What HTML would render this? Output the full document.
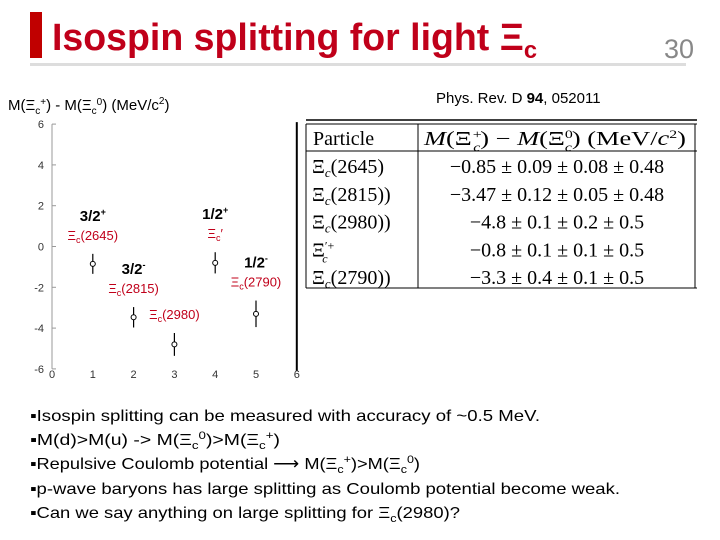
<!DOCTYPE html>
<html><head><meta charset="utf-8"><style>
body{margin:0;background:#fff}
svg{display:block}
text{font-family:"Liberation Sans Narrow","Liberation Sans",sans-serif}
.m{font-family:"Liberation Serif",serif;font-size:20px}
</style></head><body>
<svg id="s" width="720" height="540" viewBox="0 0 720 540">
<rect x="30" y="12" width="12" height="46" fill="#c00000"/>
<text x="52" y="50" font-size="38" font-weight="bold" fill="#c0001a" textLength="485" lengthAdjust="spacingAndGlyphs">Isospin splitting for light Ξ<tspan font-size="24" dy="8">c</tspan></text>
<rect x="30" y="63" width="656" height="3" fill="#ddd"/>
<text x="664" y="58" font-size="27" fill="#888">30</text>
<text x="8" y="110" font-size="15" fill="#000">M(Ξ<tspan font-size="10" dy="4">c</tspan><tspan font-size="10" dy="-9">+</tspan><tspan dy="5">) - M(Ξ</tspan><tspan font-size="10" dy="4">c</tspan><tspan font-size="10" dy="-9">0</tspan><tspan dy="5">) (MeV/c</tspan><tspan font-size="10" dy="-6">2</tspan><tspan dy="6">)</tspan></text>
<text x="436" y="103" font-size="15" fill="#000">Phys. Rev. D <tspan font-weight="bold">94</tspan>, 052011</text>
<g id="chart"></g>
<g>
<line x1="306" y1="120" x2="697" y2="120" stroke="#000" stroke-width="1.5"/>
<line x1="306" y1="124" x2="697" y2="124" stroke="#000" stroke-width="1"/>
<line x1="306" y1="151" x2="697" y2="151" stroke="#000" stroke-width="1"/>
<line x1="306" y1="288" x2="697" y2="288" stroke="#000" stroke-width="1"/>
<line x1="306" y1="124" x2="306" y2="288" stroke="#000"/>
<line x1="418" y1="124" x2="418" y2="288" stroke="#000"/>
<line x1="695" y1="124" x2="695" y2="288" stroke="#000"/>
<text class="m" x="313" y="145">Particle</text>
<text class="m" x="424" y="145" textLength="262" lengthAdjust="spacingAndGlyphs"><tspan font-style="italic">M</tspan>(Ξ<tspan font-size="12" font-style="italic" dy="-7">+</tspan><tspan font-size="12" font-style="italic" dx="-7" dy="13">c</tspan><tspan dy="-6">) − </tspan><tspan font-style="italic">M</tspan>(Ξ<tspan font-size="12" dy="-7">0</tspan><tspan font-size="12" font-style="italic" dx="-6" dy="13">c</tspan><tspan dy="-6">)  (MeV/</tspan><tspan font-style="italic">c</tspan><tspan font-size="12" dy="-7">2</tspan><tspan dy="7">)</tspan></text>
<g id="rows"></g>
</g>
<g>
<text x="30" y="421" font-size="16" textLength="510" lengthAdjust="spacingAndGlyphs">▪Isospin splitting can be measured with accuracy of ~0.5 MeV.</text>
<text x="30" y="445" font-size="16" textLength="250" lengthAdjust="spacingAndGlyphs">▪M(d)&gt;M(u)  -&gt; M(Ξ<tspan font-size="11" dy="4">c</tspan><tspan font-size="11" dy="-10">0</tspan><tspan dy="6">)&gt;M(Ξ</tspan><tspan font-size="11" dy="4">c</tspan><tspan font-size="11" dy="-10">+</tspan><tspan dy="6">)</tspan></text>
<text x="30" y="469" font-size="16" textLength="390" lengthAdjust="spacingAndGlyphs">▪Repulsive Coulomb potential ⟶ M(Ξ<tspan font-size="11" dy="4">c</tspan><tspan font-size="11" dy="-10">+</tspan><tspan dy="6">)&gt;M(Ξ</tspan><tspan font-size="11" dy="4">c</tspan><tspan font-size="11" dy="-10">0</tspan><tspan dy="6">)</tspan></text>
<text x="30" y="494" font-size="16" textLength="590" lengthAdjust="spacingAndGlyphs">▪p-wave baryons has large splitting as Coulomb potential become weak.</text>
<text x="30" y="518" font-size="16" textLength="430" lengthAdjust="spacingAndGlyphs">▪Can we say anything on large splitting for Ξ<tspan font-size="11" dy="4">c</tspan><tspan dy="-4">(2980)?</tspan></text>
</g>
</svg>
<script>
const xs=[1,2,3,4,5];
const values=[-0.85,-3.47,-4.8,-0.8,-3.3];
const errors=[0.49,0.5,0.56,0.52,0.65];
const yTicks=[6,4,2,0,-2,-4,-6];
const xTicks=[0,1,2,3,4,5,6];
const spins=["3/2","3/2","","1/2","1/2"];
const parities=["+","-","","+","-"];
const names=["(2645)","(2815)","(2980)","′","(2790)"];
const tableNames=["Ξc(2645)","Ξc(2815))","Ξc(2980))","Ξ′+c","Ξc(2790))"];
const tableVals=["−0.85 ± 0.09 ± 0.08 ± 0.48","−3.47 ± 0.12 ± 0.05 ± 0.48","−4.8 ± 0.1 ± 0.2 ± 0.5","−0.8 ± 0.1 ± 0.1 ± 0.5","−3.3 ± 0.4 ± 0.1 ± 0.5"];
const NS="http://www.w3.org/2000/svg";
const X=v=>52+v*40.8, Y=v=>246.5-v*20.4;
const g=document.getElementById('chart');
function mk(t,a,p){const e=document.createElementNS(NS,t);for(const k in a)e.setAttribute(k,a[k]);(p||g).appendChild(e);return e;}
let e=mk('line',{x1:X(0),y1:Y(6),x2:X(0),y2:Y(-6),stroke:'#999'});


e=mk('line',{x1:X(6),y1:Y(6)-2,x2:X(6),y2:Y(-6)+2,stroke:'#000','stroke-width':2});


yTicks.forEach(v=>{const t=mk('text',{x:X(0)-8,y:Y(v)+4,'font-size':11,'text-anchor':'end',fill:'#333'});t.textContent=v;


mk('line',{x1:X(0),y1:Y(v),x2:X(0)+4,y2:Y(v),stroke:'#999'});});
xTicks.forEach(v=>{const t=mk('text',{x:X(v),y:Y(-6)+9,'font-size':11,'text-anchor':'middle',fill:'#333'});t.textContent=v;

});
xs.forEach((x,i)=>{
const l=mk('line',{x1:X(x),y1:Y(values[i]+errors[i]),x2:X(x),y2:Y(values[i]-errors[i]),stroke:'#000','stroke-width':1.2});


const c=mk('circle',{cx:X(x),cy:Y(values[i]),r:2.5,fill:'#fff',stroke:'#000'});


const ny=Y(values[i]+errors[i])-14, lx=X(x);
const n=mk('text',{x:lx,y:ny,'font-size':13,fill:'#c0001a','text-anchor':'middle'});
n.innerHTML='Ξ<tspan font-size="9" dy="3">c</tspan><tspan dy="-3">'+names[i]+'</tspan>';


if(spins[i]){const s=mk('text',{x:lx,y:ny-19,'font-size':15,'font-weight':'bold','text-anchor':'middle'});
s.innerHTML=spins[i]+'<tspan font-size="9" dy="-6">'+parities[i]+'</tspan>';

}
});
const rows=document.getElementById('rows');
tableNames.forEach((nm,i)=>{const y=173+i*27.8;
const a=mk('text',{class:'m',x:312,y:y},rows);
a.innerHTML=nm.startsWith('Ξ′')?'Ξ<tspan font-size="12" dy="-7">′+</tspan><tspan font-size="12" font-style="italic" dx="-12" dy="13">c</tspan>':'Ξ<tspan font-size="13" font-style="italic" dy="4">c</tspan><tspan dy="-4">'+nm.slice(2)+'</tspan>';


const b=mk('text',{class:'m',x:557,y:y,'text-anchor':'middle','font-size':21},rows);b.textContent=tableVals[i];

});
</script>
</body></html>
